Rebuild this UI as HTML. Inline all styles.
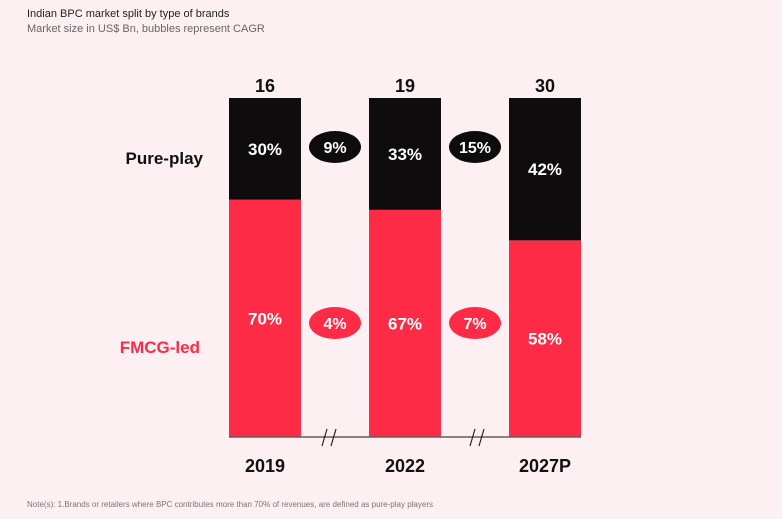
<!DOCTYPE html>
<html><head><meta charset="utf-8"><style>
body{margin:0;background:#fdf0f3;}
svg{display:block;font-family:"Liberation Sans",sans-serif;}
</style></head><body>
<svg width="782" height="519" viewBox="0 0 782 519" id="chart">
<rect width="782" height="519" fill="#fdf0f3"/>
<text x="27" y="17" font-size="11" fill="#222">Indian BPC market split by type of brands</text>
<text x="27" y="32" font-size="11" fill="#666">Market size in US$ Bn, bubbles represent CAGR</text>
<text x="203" y="164" font-size="17" font-weight="bold" fill="#111" text-anchor="end">Pure-play</text>
<text x="200" y="353" font-size="17" font-weight="bold" fill="#fe2b46" text-anchor="end">FMCG-led</text>
<g id="bars"></g>
<line x1="229" y1="437" x2="581" y2="437" stroke="#6b5a5e" stroke-width="1.5"/>
<g stroke="#222" stroke-width="1.2">
<line x1="322" y1="446" x2="327" y2="429"/><line x1="331" y1="446" x2="336" y2="429"/></g>
<g stroke="#222" stroke-width="1.2">
<line x1="470" y1="446" x2="475" y2="429"/><line x1="479" y1="446" x2="484" y2="429"/></g>
<text x="27" y="507" font-size="8" fill="#777">Note(s): 1.Brands or retailers where BPC contributes more than 70% of revenues, are defined as pure-play players</text>
</svg>
<script>
const categories=["2019","2022","2027P"];
const totals=[16,19,30];
const purePlay=[30,33,42];
const fmcgLed=[70,67,58];
const cagrPure=["9%","15%"];
const cagrFmcg=["4%","7%"];
const NS="http://www.w3.org/2000/svg";
const gBars=document.getElementById('bars');
const x0=229,step=140,bw=72,base=437,yTop=98;
const xS=i=>x0+i*step;
const yS=v=>base-(base-yTop)*v/100;
function mk(t,a,txt){const e=document.createElementNS(NS,t);for(const k in a)e.setAttribute(k,a[k]);if(txt!=null)e.textContent=txt;gBars.appendChild(e);return e;}
categories.forEach((c,i)=>{
  const x=xS(i),f=fmcgLed[i],p=purePlay[i];
  let r=mk('rect',{x:x,y:yS(f),width:bw,height:base-yS(f),fill:'#fe2b46'});
  
  
  r=mk('rect',{x:x,y:yS(f+p),width:bw,height:yS(f)-yS(f+p),fill:'#0e0c0c'});
  
  
  let t=mk('text',{x:x+bw/2,y:(yS(f)+base)/2+6,'font-size':17,'font-weight':'bold',fill:'#fff','text-anchor':'middle'},f+'%');
  
  
  t=mk('text',{x:x+bw/2,y:(yS(f)+yS(f+p))/2+6,'font-size':17,'font-weight':'bold',fill:'#fff','text-anchor':'middle'},p+'%');
  
  
  t=mk('text',{x:x+bw/2,y:yTop-6,'font-size':18,'font-weight':'bold',fill:'#111','text-anchor':'middle'},String(totals[i]));
  
  
  t=mk('text',{x:x+bw/2,y:472,'font-size':18,'font-weight':'bold',fill:'#111','text-anchor':'middle'},c);
  
  
});
[[cagrPure,147,'#0e0c0c','pure'],[cagrFmcg,323,'#fe2b46','fmcg']].forEach(([arr,cy,col,n])=>{
  arr.forEach((v,i)=>{
    const cx=xS(i)+bw+(step-bw)/2;
    const e=mk('ellipse',{cx:cx,cy:cy,rx:26,ry:16,fill:col});
    
    
    const t=mk('text',{x:cx,y:cy+6,'font-size':16,'font-weight':'bold',fill:'#fff','text-anchor':'middle'},v);
    
    
  });
});
</script>
</body></html>
